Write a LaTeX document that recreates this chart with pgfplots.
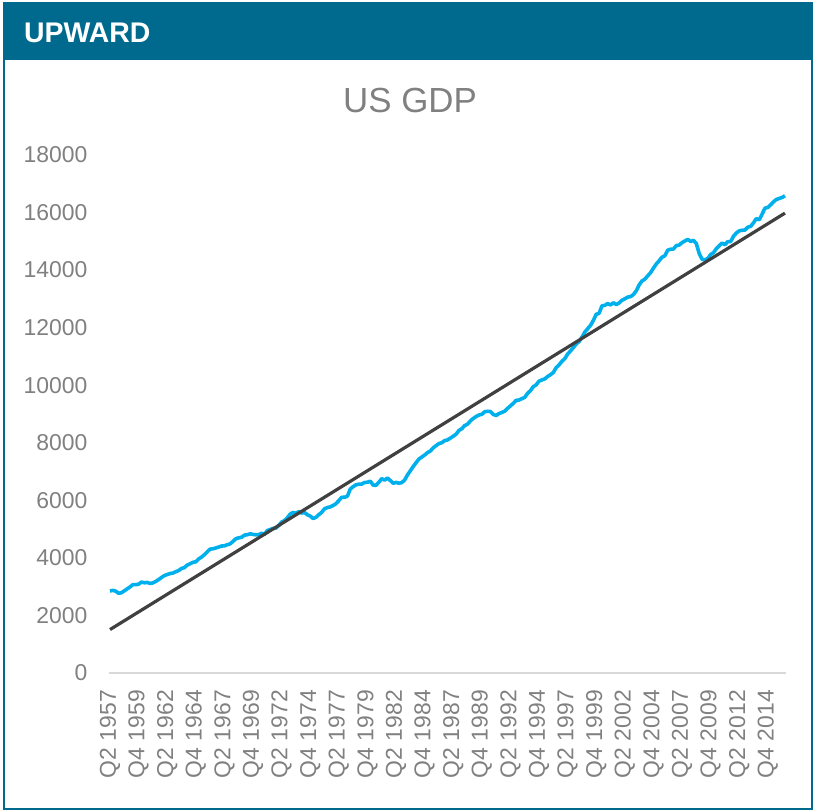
\documentclass[border=0pt]{standalone}
\usepackage{fontspec}
\setmainfont{Liberation Sans}
\usepackage{pgfplots}
\usepackage{pgfplotstable}
\pgfplotsset{compat=1.18}
\definecolor{hdr}{RGB}{0,106,142}
\definecolor{gdpblue}{RGB}{0,176,236}
\definecolor{trend}{RGB}{64,64,64}
\definecolor{txt}{RGB}{128,128,128}
\definecolor{axl}{RGB}{217,217,217}

% real GDP, quarterly, Q2 1957 = 0
\pgfplotstableread{
idx gdp
0 2846
1 2873
2 2843
3 2770
4 2788
5 2855
6 2925
7 2990
8 3070
9 3069
10 3085
11 3160
12 3135
13 3148
14 3111
15 3131
16 3184
17 3245
18 3320
19 3385
20 3422
21 3456
22 3473
23 3520
24 3560
25 3633
26 3663
27 3750
28 3796
29 3847
30 3864
31 3964
32 4027
33 4112
34 4209
35 4305
36 4316
37 4345
38 4377
39 4412
40 4419
41 4457
42 4488
43 4573
44 4667
45 4697
46 4716
47 4791
48 4804
49 4838
50 4815
51 4802
52 4809
53 4854
54 4812
55 4953
56 4985
57 5026
58 5034
59 5126
60 5247
61 5297
62 5396
63 5523
64 5578
65 5550
66 5609
67 5558
68 5578
69 5500
70 5453
71 5368
72 5410
73 5502
74 5580
75 5706
76 5749
77 5772
78 5822
79 5883
80 5990
81 6105
82 6106
83 6142
84 6392
85 6475
86 6540
87 6561
88 6567
89 6617
90 6629
91 6665
92 6528
93 6522
94 6629
95 6753
96 6702
97 6774
98 6689
99 6591
100 6623
101 6594
102 6616
103 6703
104 6883
105 7025
106 7174
107 7307
108 7433
109 7503
110 7573
111 7659
112 7714
113 7823
114 7900
115 7972
116 8002
117 8075
118 8100
119 8160
120 8228
121 8299
122 8427
123 8488
124 8598
125 8645
126 8760
127 8846
128 8911
129 8965
130 8990
131 9078
132 9094
133 9087
134 8985
135 8947
136 9016
137 9052
138 9097
139 9195
140 9282
141 9370
142 9475
143 9483
144 9532
145 9578
146 9718
147 9811
148 9949
149 10012
150 10141
151 10183
152 10219
153 10302
154 10364
155 10442
156 10612
157 10705
158 10830
159 10923
160 11081
161 11191
162 11308
163 11432
164 11518
165 11664
166 11843
167 11961
168 12079
169 12253
170 12465
171 12498
172 12757
173 12775
174 12838
175 12788
176 12866
177 12803
178 12857
179 12952
180 13002
181 13062
182 13078
183 13151
184 13278
185 13484
186 13622
187 13686
188 13799
189 13911
190 14068
191 14212
192 14326
193 14448
194 14500
195 14693
196 14726
197 14733
198 14851
199 14870
200 14953
201 15012
202 15067
203 14997
204 15034
205 14924
206 14578
207 14376
208 14356
209 14403
210 14541
211 14605
212 14745
213 14846
214 14939
215 14882
216 14990
217 14992
218 15175
219 15291
220 15363
221 15385
222 15392
223 15491
224 15521
225 15642
226 15793
227 15748
228 15946
229 16150
230 16178
231 16269
232 16374
233 16455
234 16491
235 16525
236 16583
}\gdpdata

\begin{document}
\begin{tikzpicture}
\useasboundingbox (0bp,0bp) rectangle (815bp,811bp);
% header band and frame
\fill[hdr] (3bp,751bp) rectangle (813bp,809bp);
\draw[hdr, line width=2bp] (4bp,2bp) rectangle (812bp,808bp);
\node[anchor=west, text=white, inner sep=0, font=\bfseries\fontsize{28.5}{30}\selectfont] at (24bp,778bp) {UPWARD};
\node[text=txt, inner sep=0, font=\fontsize{35}{38}\selectfont] at (410bp,710bp) {US GDP};

\begin{axis}[
    at={(108.6bp,138bp)}, anchor=south west,
    scale only axis, width=677.8bp, height=518bp,
    xmin=-0.5, xmax=236.5, ymin=0, ymax=18000,
    scaled y ticks=false,
    axis x line*=bottom, axis y line*=left,
    x axis line style={draw=axl, line width=1.5bp, -},
    y axis line style={draw=none},
    major tick length=0, tick style={draw=none},
    ytick={0,2000,...,18000},
    yticklabels={0,2000,4000,6000,8000,10000,12000,14000,16000,18000},
    xtick={0,10,...,230},
    xticklabels={Q2 1957,Q4 1959,Q2 1962,Q4 1964,Q2 1967,Q4 1969,Q2 1972,Q4 1974,
      Q2 1977,Q4 1979,Q2 1982,Q4 1984,Q2 1987,Q4 1989,Q2 1992,Q4 1994,
      Q2 1997,Q4 1999,Q2 2002,Q4 2004,Q2 2007,Q4 2009,Q2 2012,Q4 2014},
    tick label style={font=\fontsize{23}{24}\selectfont, text=txt, inner sep=0},
    yticklabel style={anchor=east},
    xticklabel style={rotate=90, anchor=east},
    yticklabel shift=21bp,
    xticklabel shift=17bp,
    clip=false,
]
\addplot[gdpblue, line width=3.6bp, line join=round] table[x=idx, y=gdp] {\gdpdata};
\addplot[trend, line width=3.2bp] coordinates {(0,1510) (236,15980)};
\end{axis}
\end{tikzpicture}
\end{document}
